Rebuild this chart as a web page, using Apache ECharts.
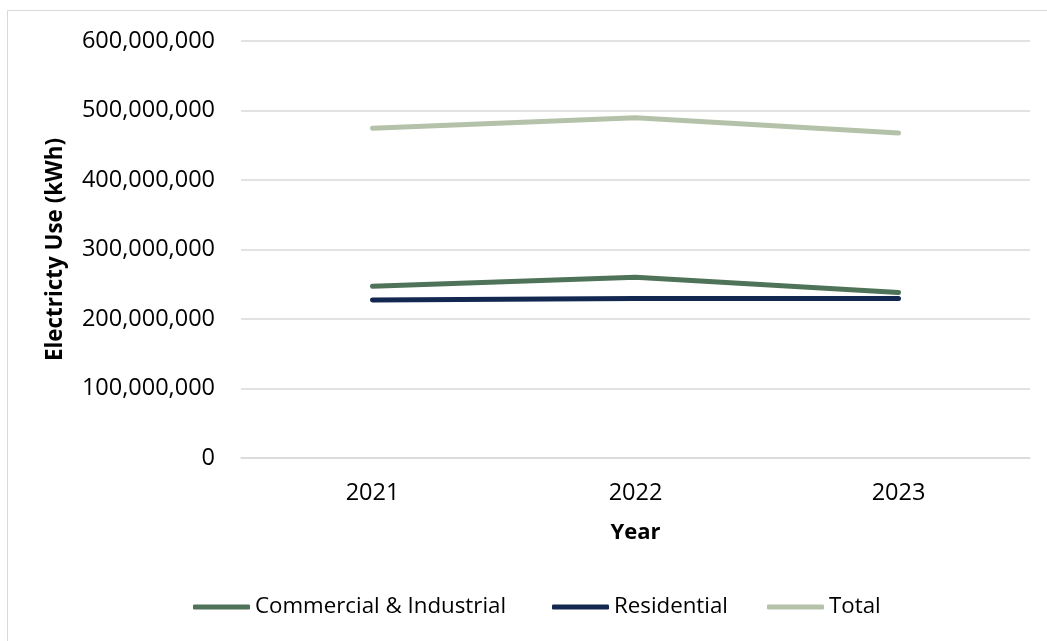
<!DOCTYPE html>
<html>
<head>
<meta charset="utf-8">
<script src="https://cdn.jsdelivr.net/npm/echarts@6/dist/echarts.min.js"></script>
<style>
  html, body { margin: 0; padding: 0; background: #fff; }
  #main { width: 1047px; height: 641px; }
</style>
</head>
<body>
<div id="main"></div>
<script>
var years = ['2021', '2022', '2023'];
var commercialIndustrial = [247000000, 260000000, 238000000];
var residential = [227500000, 229500000, 229500000];
var total = [474500000, 489500000, 467500000];

var fontFam = '"Open Sans", "Noto Sans", sans-serif';

var chart = echarts.init(document.getElementById('main'));

// one legend per item so each sits where Excel put it
function legendAt(name, left) {
    return {
        top: 588,
        left: left,
        itemWidth: 57,
        itemHeight: 5,
        icon: 'roundRect',
        textStyle: { fontSize: 22.3, lineHeight: 28, color: '#000', fontFamily: fontFam },
        data: [name]
    };
}

var option = {
    backgroundColor: '#fff',
    animation: false,
    textStyle: { fontFamily: fontFam },
    graphic: [
        {
            type: 'rect',
            shape: { x: 7.5, y: 10.5, width: 1100, height: 700 },
            style: { fill: 'none', stroke: '#d9d9d9', lineWidth: 1 },
            silent: true
        }
    ],
    grid: { left: 241, right: 17, top: 41, bottom: 183 },
    legend: [
        legendAt('Commercial & Industrial', 188),
        legendAt('Residential', 547),
        legendAt('Total', 762)
    ],
    xAxis: {
        type: 'category',
        data: years,
        boundaryGap: true,
        name: 'Year',
        nameLocation: 'middle',
        nameGap: 64,
        nameTextStyle: { fontSize: 22, fontWeight: 'bold', color: '#000', fontFamily: fontFam },
        axisLine: { show: true, lineStyle: { color: '#d9d9d9', width: 1.5 } },
        axisTick: { show: false },
        axisLabel: { fontSize: 23.5, color: '#000', margin: 23 }
    },
    yAxis: {
        type: 'value',
        min: 0,
        max: 600000000,
        interval: 100000000,
        name: 'Electricty Use (kWh)',
        nameLocation: 'middle',
        nameGap: 174,
        nameTextStyle: { fontSize: 22.4, fontWeight: 'bold', color: '#000', fontFamily: fontFam },
        axisLine: { show: false },
        axisTick: { show: false },
        axisLabel: {
            fontSize: 23.5,
            color: '#000',
            margin: 26,
            formatter: function (v) { return v.toLocaleString('en-US'); }
        },
        splitLine: { lineStyle: { color: '#d9d9d9', width: 1.5 } }
    },
    series: [
        {
            name: 'Commercial & Industrial',
            type: 'line',
            data: commercialIndustrial,
            symbol: 'none',
            lineStyle: { width: 5, color: '#4e7358', cap: 'round', join: 'round' },
            itemStyle: { color: '#4e7358' }
        },
        {
            name: 'Residential',
            type: 'line',
            data: residential,
            symbol: 'none',
            lineStyle: { width: 5, color: '#132851', cap: 'round', join: 'round' },
            itemStyle: { color: '#132851' }
        },
        {
            name: 'Total',
            type: 'line',
            data: total,
            symbol: 'none',
            lineStyle: { width: 5, color: '#b5c2aa', cap: 'round', join: 'round' },
            itemStyle: { color: '#b5c2aa' }
        }
    ]
};

chart.setOption(option);
</script>
</body>
</html>
